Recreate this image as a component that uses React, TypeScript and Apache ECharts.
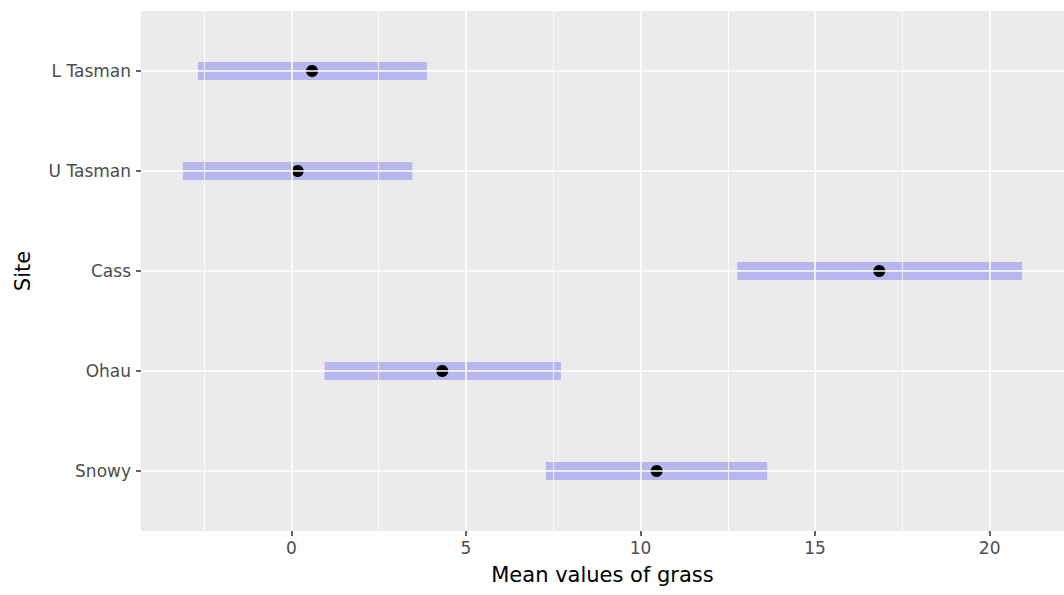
import React, { useEffect, useRef } from "react";
import * as echarts from "echarts";

// Sites, top to bottom
const sites = ["L Tasman", "U Tasman", "Cass", "Ohau", "Snowy"];
const means = [0.59, 0.18, 16.84, 4.32, 10.46];
const lowers = [-2.68, -3.11, 12.77, 0.95, 7.29];
const uppers = [3.88, 3.46, 20.93, 7.72, 13.63];

const xTicks = [0, 5, 10, 15, 20];
const xMinorTicks = [-2.5, 2.5, 7.5, 12.5, 17.5];
const yTicks = [0, 1, 2, 3, 4];

const FONT = "DejaVu Sans";

export default function App() {
  const ref = useRef<HTMLDivElement>(null);
  useEffect(() => {
    if (!ref.current) return;
    const chart = echarts.init(ref.current, undefined, { renderer: "svg" });
    const barData = sites.map((_, i) => [lowers[i], uppers[i], i]);
    const pointData = sites.map((_, i) => [means[i], i]);
    const gridLines: any[] = [
      ...xTicks.map((v) => ({ xAxis: v, lineStyle: { width: 1.6 } })),
      ...xMinorTicks.map((v) => ({ xAxis: v, lineStyle: { width: 0.8 } })),
      ...yTicks.map((v) => ({ yAxis: v, lineStyle: { width: 1.6 } })),
    ];
    chart.setOption({
      animation: false,
      textStyle: { fontFamily: FONT },
      grid: {
        left: 141,
        top: 11,
        width: 928.5,
        height: 520,
        show: true,
        backgroundColor: "#EBEBEB",
        borderWidth: 0,
      },
      xAxis: {
        type: "value",
        min: -4.31,
        max: 22.13,
        name: "Mean values of grass",
        nameLocation: "middle",
        nameGap: 33,
        nameTextStyle: { color: "#000", fontSize: 21, fontFamily: FONT },
        axisLine: { show: false, onZero: false },
        axisTick: {
          show: true,
          length: 5,
          customValues: xTicks,
          lineStyle: { color: "#333", width: 1.5 },
        },
        axisLabel: {
          customValues: xTicks,
          color: "#4D4D4D",
          fontSize: 17,
          margin: 8,
          fontFamily: FONT,
        },
        splitLine: { show: false },
      },
      yAxis: {
        type: "value",
        inverse: true,
        min: -0.6,
        max: 4.6,
        name: "Site",
        nameLocation: "middle",
        nameGap: 108,
        nameRotate: 90,
        nameTextStyle: { color: "#000", fontSize: 21, fontFamily: FONT },
        axisLine: { show: false, onZero: false },
        axisTick: {
          show: true,
          length: 5,
          customValues: yTicks,
          lineStyle: { color: "#333", width: 1.5 },
        },
        axisLabel: {
          customValues: yTicks,
          formatter: (v: number) => sites[Math.round(v)] ?? "",
          color: "#4D4D4D",
          fontSize: 17,
          margin: 10,
          fontFamily: FONT,
        },
        splitLine: { show: false },
      },
      series: [
        {
          type: "scatter",
          data: [],
          z: 1,
          silent: true,
          markLine: {
            silent: true,
            symbol: ["none", "none"],
            label: { show: false },
            lineStyle: { color: "#FFFFFF", type: "solid", width: 1.6 },
            emphasis: { disabled: true },
            data: gridLines,
          },
        },
        {
          type: "custom",
          z: 2,
          data: barData,
          encode: { x: [0, 1], y: 2 },
          renderItem: (params: any, api: any) => {
            const a = api.coord([api.value(0), api.value(2)]);
            const b = api.coord([api.value(1), api.value(2)]);
            return {
              type: "rect",
              shape: { x: a[0], y: a[1] - 9, width: b[0] - a[0], height: 18 },
              style: { fill: "rgba(0,0,255,0.22)" },
            };
          },
        },
        {
          type: "scatter",
          z: 3,
          data: pointData,
          symbol: "circle",
          symbolSize: 12,
          itemStyle: { color: "#000", opacity: 1 },
        },
      ],
    });
    return () => chart.dispose();
  }, []);
  return (
    <div
      ref={ref}
      style={{ position: "fixed", left: 0, top: 0, width: 1064, height: 595, background: "#fff" }}
    />
  );
}
